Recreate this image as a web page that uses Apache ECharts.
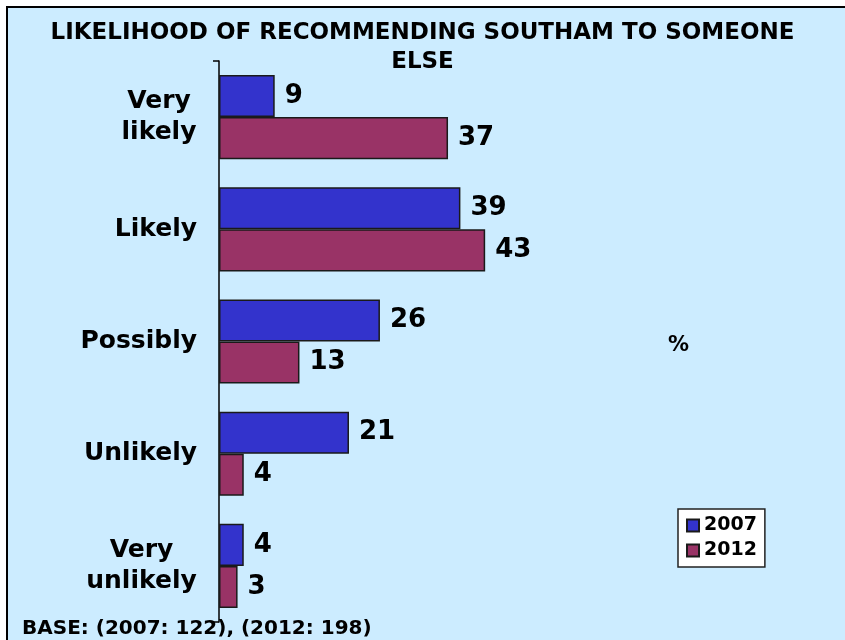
<!DOCTYPE html>
<html>
<head>
<meta charset="utf-8">
<script src="https://cdn.jsdelivr.net/npm/echarts@6/dist/echarts.min.js"></script>
<style>
html, body { margin: 0; padding: 0; background: #fff; }
#main { width: 845px; height: 640px; }
</style>
</head>
<body>
<div id="main"></div>
<script>
// data
var categories = ['Very\nlikely', 'Likely', 'Possibly', 'Unlikely', 'Very\nunlikely'];
var seriesNames = ['2007', '2012'];
var values2007 = [9, 39, 26, 21, 4];
var values2012 = [37, 43, 13, 4, 3];
var xMax = 100;

var fontName = 'DejaVu Sans';

var chart = echarts.init(document.getElementById('main'));
chart.setOption({
	backgroundColor: '#fff',
	animation: false,
	title: {
		text: 'LIKELIHOOD OF RECOMMENDING SOUTHAM TO SOMEONE\nELSE',
		left: 'center',
		top: 14,
		textStyle: {
			fontFamily: fontName,
			fontWeight: 'bold',
			fontSize: 23,
			lineHeight: 29,
			color: '#000'
		}
	},
	grid: {
		left: 219,
		right: 7,
		top: 61,
		bottom: 18,
		containLabel: false
	},
	xAxis: {
		type: 'value',
		min: 0,
		max: xMax,
		show: false
	},
	yAxis: {
		type: 'category',
		inverse: true,
		data: categories,
		axisLine: { show: true, lineStyle: { color: '#000', width: 1.5 } },
		axisTick: {
			show: true,
			length: 6,
			lineStyle: { color: '#000', width: 1.5 },
			interval: function (i) { return i === 0; }
		},
		axisLabel: {
			margin: 22,
			color: '#000',
			fontFamily: fontName,
			fontWeight: 'bold',
			fontSize: 25,
			lineHeight: 31,
			formatter: function (v) {
				//两行标签居中
				if (v === 'Very\nlikely') return '{a|Very}\n{a|likely}';
				if (v === 'Very\nunlikely') return '{b|Very}\n{b|unlikely}';
				return v;
			},
			rich: {
				a: { width: 76, align: 'center', fontFamily: fontName, fontWeight: 'bold', fontSize: 25, lineHeight: 31, color: '#000' },
				b: { width: 111, align: 'center', fontFamily: fontName, fontWeight: 'bold', fontSize: 25, lineHeight: 31, color: '#000' }
			}
		}
	},
	legend: {
		data: seriesNames,
		orient: 'vertical',
		left: 678,
		top: 509,
		icon: 'rect',
		backgroundColor: '#fff',
		borderColor: '#222',
		borderWidth: 1.5,
		padding: [7, 8, 7, 8],
		itemWidth: 12,
		itemHeight: 12,
		itemGap: 6,
		textStyle: {
			fontFamily: fontName,
			fontWeight: 'bold',
			fontSize: 19,
			color: '#000'
		}
	},
	graphic: [
		{
			type: 'rect',
			z: -10,
			silent: true,
			shape: { x: 7, y: 7, width: 850, height: 650 },
			style: { fill: '#CCECFF', stroke: '#000', lineWidth: 2 }
		},
		{
			type: 'text',
			left: 668,
			top: 335,
			style: { text: '%', fontFamily: fontName, fontWeight: 'bold', fontSize: 21, fill: '#000' }
		},
		{
			type: 'text',
			left: 22,
			top: 619,
			style: { text: 'BASE: (2007: 122), (2012: 198)', fontFamily: fontName, fontWeight: 'bold', fontSize: 20, fill: '#000' }
		}
	],
	series: [
		{
			name: seriesNames[0],
			type: 'bar',
			barGap: '0%',
			barCategoryGap: '25%',
			data: values2007,
			itemStyle: { color: '#3333CC', borderColor: '#1a1a1a', borderWidth: 1.5 },
			label: {
				show: true,
				position: 'right',
				distance: 10,
				fontFamily: fontName,
				fontWeight: 'bold',
				fontSize: 26,
				color: '#000'
			}
		},
		{
			name: seriesNames[1],
			type: 'bar',
			barGap: '0%',
			barCategoryGap: '25%',
			data: values2012,
			itemStyle: { color: '#993366', borderColor: '#1a1a1a', borderWidth: 1.5 },
			label: {
				show: true,
				position: 'right',
				distance: 10,
				fontFamily: fontName,
				fontWeight: 'bold',
				fontSize: 26,
				color: '#000'
			}
		}
	]
});
</script>
</body>
</html>
